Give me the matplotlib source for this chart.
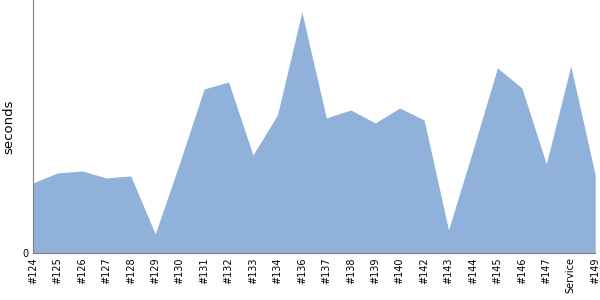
import matplotlib
matplotlib.use("Agg")
import matplotlib.pyplot as plt

# Build labels and run times (arbitrary seconds scale)
builds = ['#124', '#125', '#126', '#127', '#128', '#129', '#130', '#131',
          '#132', '#133', '#134', '#136', '#137', '#138', '#139', '#140',
          '#142', '#143', '#144', '#145', '#146', '#147', 'Service', '#149']
seconds = [70, 80, 82, 75, 77, 19, 90, 164, 171, 98, 138, 241, 135, 143,
           130, 145, 133, 23, 103, 185, 165, 89, 187, 78]

fill_color = '#8fb1da'
axis_color = '#808080'

fig = plt.figure(figsize=(6, 3), dpi=100)
ax = fig.add_axes([0.055, 0.157, 0.937, 0.843])

x = list(range(len(builds)))
ax.fill_between(x, seconds, 0, color=fill_color, linewidth=0)

ax.set_xlim(0, len(builds) - 1)
ax.set_ylim(0, 253)
ax.set_xticks(x)
ax.set_xticklabels(builds, rotation=90, fontsize=7)
ax.set_yticks([0])
ax.set_yticklabels(['0'], fontsize=7)
ax.tick_params(axis='both', length=0, pad=3)
ax.set_ylabel('seconds', fontsize=9.5)
ax.yaxis.set_label_coords(-0.031, 0.5)

for side in ['top', 'right']:
    ax.spines[side].set_visible(False)
for side in ['left', 'bottom']:
    ax.spines[side].set_color(axis_color)

fig.savefig('out.png', dpi=100)
